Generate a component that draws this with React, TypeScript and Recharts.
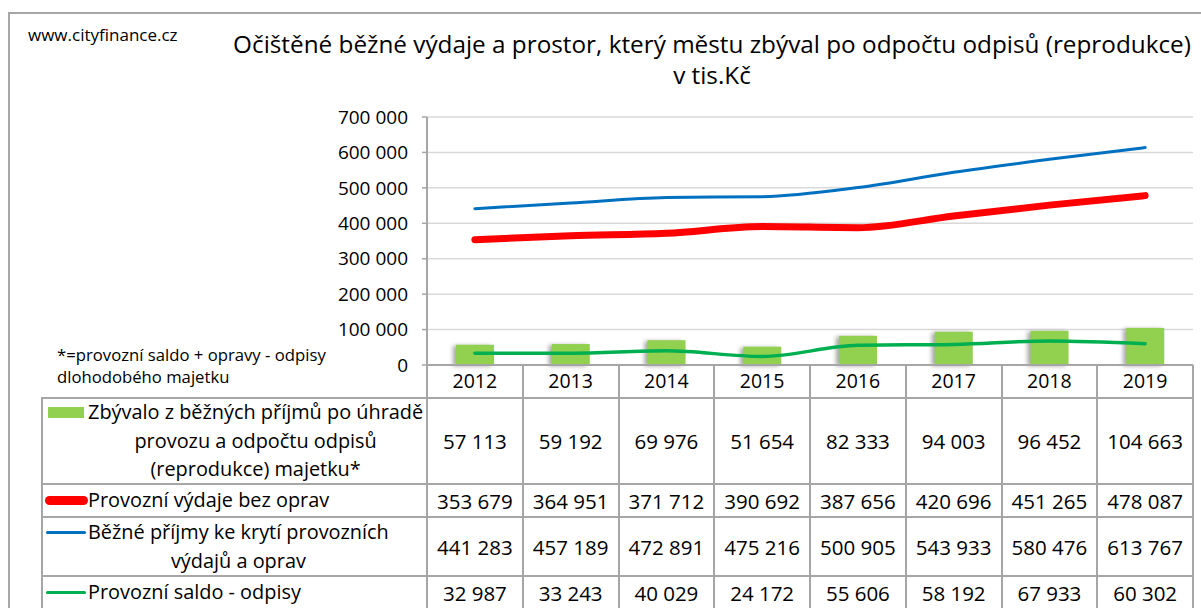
import React from 'react';
import { ComposedChart, Bar, Line, XAxis, YAxis, CartesianGrid } from 'recharts';

// values (tis. Kč)
const years = ['2012', '2013', '2014', '2015', '2016', '2017', '2018', '2019'];
const zbyvalo = [57113, 59192, 69976, 51654, 82333, 94003, 96452, 104663];
const provozniVydaje = [353679, 364951, 371712, 390692, 387656, 420696, 451265, 478087];
const bezenePrijmy = [441283, 457189, 472891, 475216, 500905, 543933, 580476, 613767];
const saldoOdpisy = [32987, 33243, 40029, 24172, 55606, 58192, 67933, 60302];
const yTicks = [0, 100000, 200000, 300000, 400000, 500000, 600000, 700000];

const seriesNames = [
  'Zbývalo z běžných příjmů po úhradě\nprovozu a odpočtu odpisů\n(reprodukce) majetku*',
  'Provozní výdaje bez oprav',
  'Běžné příjmy ke krytí provozních\nvýdajů a oprav',
  'Provozní saldo - odpisy',
];

const chartData = years.map((year, i) => ({
  year,
  zbyvalo: zbyvalo[i],
  vydaje: provozniVydaje[i],
  prijmy: bezenePrijmy[i],
  saldo: saldoOdpisy[i],
}));

const FONT = '"Open Sans", "Noto Sans", sans-serif';
const GRID = '#a6a6a6';

// layout (px)
const PLOT_LEFT = 427;
const PLOT_RIGHT = 1193;
const PLOT_TOP = 117;
const PLOT_BOTTOM = 365;
const AXIS_H = 33;
const LABEL_LEFT = 42;
const rowEdges = [398, 484, 517, 576, 609];

const fmt = (n: number) => String(n).replace(/\B(?=(\d{3})+(?!\d))/g, ' ');

const ShadowBar = (props: any) => {
  const { x, y, width, height, fill } = props;
  if (!height || height <= 0) return null;
  return (
    <rect
      x={x}
      y={y}
      width={width}
      height={height}
      fill={fill}
      style={{ filter: 'drop-shadow(-3px 1px 2px rgba(0,0,0,0.35))' }}
    />
  );
};

const LegendKey = ({ row }: { row: number }) => {
  if (row === 0) return <div style={{ width: 36, height: 11, background: '#92D050' }} />;
  if (row === 1) return <div style={{ width: 43, height: 9, borderRadius: 5, background: '#FF0000' }} />;
  if (row === 2) return <div style={{ width: 40, height: 3.5, borderRadius: 2, background: '#0070C0' }} />;
  return <div style={{ width: 40, height: 3.5, borderRadius: 2, background: '#00B050' }} />;
};

const tableValues = [zbyvalo, provozniVydaje, bezenePrijmy, saldoOdpisy];

export default function App() {
  const colW = (PLOT_RIGHT - PLOT_LEFT) / years.length;
  const colEdges = years.map((_, i) => PLOT_LEFT + i * colW).concat([PLOT_RIGHT]);

  return (
    <div
      style={{
        position: 'absolute',
        left: 0,
        top: 0,
        width: 1201,
        height: 608,
        overflow: 'hidden',
        background: '#fff',
        fontFamily: FONT,
        color: '#000',
      }}
    >
      {/* outer frame */}
      <div style={{ position: 'absolute', left: 8, top: 12, width: 1193, height: 2, background: GRID }} />
      <div style={{ position: 'absolute', left: 8, top: 12, width: 2, height: 596, background: GRID }} />

      <div style={{ position: 'absolute', left: 28, top: 22, fontSize: 17, lineHeight: '26px' }}>www.cityfinance.cz</div>

      <div
        style={{
          position: 'absolute',
          left: 212,
          top: 28,
          width: 1000,
          textAlign: 'center',
          fontSize: 24.3,
          lineHeight: '31px',
          whiteSpace: 'nowrap',
        }}
      >
        Očištěné běžné výdaje a prostor, který městu zbýval po odpočtu odpisů (reprodukce)
        <br />v tis.Kč
      </div>

      <div style={{ position: 'absolute', left: 57, top: 344, fontSize: 16.7, lineHeight: '22px' }}>
        *=provozní saldo + opravy - odpisy
        <br />
        dlohodobého majetku
      </div>

      <div style={{ position: 'absolute', left: 0, top: 0 }}>
        <ComposedChart
          width={1201}
          height={608}
          data={chartData}
          margin={{ top: PLOT_TOP, right: 1201 - PLOT_RIGHT, bottom: 608 - PLOT_BOTTOM - AXIS_H, left: 0 }}
        >
          <CartesianGrid vertical={false} stroke="#d9d9d9" strokeWidth={1.5} />
          <XAxis
            dataKey="year"
            height={AXIS_H}
            axisLine={{ stroke: GRID, strokeWidth: 2 }}
            tickLine={false}
            tickSize={0}
            tickMargin={9}
            tick={{ fill: '#000', fontSize: 19.5, fontFamily: FONT }}
            interval={0}
          />
          <YAxis
            width={PLOT_LEFT}
            domain={[0, 700000]}
            ticks={yTicks}
            tickFormatter={fmt}
            axisLine={{ stroke: GRID, strokeWidth: 2 }}
            tickLine={{ stroke: GRID, strokeWidth: 1.5 }}
            tickSize={5}
            tickMargin={14}
            tick={{ fill: '#000', fontSize: 19, fontFamily: FONT }}
          />
          <Bar dataKey="zbyvalo" fill="#92D050" barSize={38} shape={ShadowBar} isAnimationActive={false} />
          <Line type="monotone" dataKey="vydaje" stroke="#FF0000" strokeWidth={7} dot={false} strokeLinecap="round" isAnimationActive={false} />
          <Line type="monotone" dataKey="prijmy" stroke="#0070C0" strokeWidth={3} dot={false} strokeLinecap="round" isAnimationActive={false} />
          <Line type="monotone" dataKey="saldo" stroke="#00B050" strokeWidth={3.5} dot={false} strokeLinecap="round" isAnimationActive={false} />
        </ComposedChart>
      </div>

      {/* data table grid */}
      {rowEdges.slice(0, -1).map((y) => (
        <div key={'h' + y} style={{ position: 'absolute', left: LABEL_LEFT, top: y - 1, width: PLOT_RIGHT - LABEL_LEFT + 1, height: 2, background: GRID }} />
      ))}
      <div style={{ position: 'absolute', left: LABEL_LEFT - 1, top: rowEdges[0] - 1, width: 2, height: 220, background: GRID }} />
      {colEdges.map((x) => (
        <div key={'v' + x} style={{ position: 'absolute', left: x - 1, top: PLOT_BOTTOM, width: 2, height: 250, background: GRID }} />
      ))}

      {/* data table labels and values */}
      {seriesNames.map((name, r) => {
        const top = rowEdges[r];
        const h = rowEdges[r + 1] - rowEdges[r];
        return (
          <React.Fragment key={name}>
            <div
              style={{
                position: 'absolute',
                left: LABEL_LEFT + 2,
                top,
                width: PLOT_LEFT - LABEL_LEFT - 4,
                height: h,
                display: 'flex',
                alignItems: 'center',
                fontSize: 19.9,
                lineHeight: '28.5px',
                whiteSpace: 'nowrap',
              }}
            >
              <div style={{ display: 'flex', alignItems: 'flex-start' }}>
                <div style={{ width: 44, height: 28.5, display: 'flex', alignItems: 'center', justifyContent: 'center', flexShrink: 0 }}>
                  <LegendKey row={r} />
                </div>
                <div style={{ textAlign: 'center', whiteSpace: 'pre-line' }}>{name}</div>
              </div>
            </div>
            {tableValues[r].map((v, c) => (
              <div
                key={c}
                style={{
                  position: 'absolute',
                  left: colEdges[c],
                  top,
                  width: colW,
                  height: h,
                  display: 'flex',
                  alignItems: 'center',
                  justifyContent: 'center',
                  fontSize: 20.5,
                }}
              >
                {fmt(v)}
              </div>
            ))}
          </React.Fragment>
        );
      })}
    </div>
  );
}
